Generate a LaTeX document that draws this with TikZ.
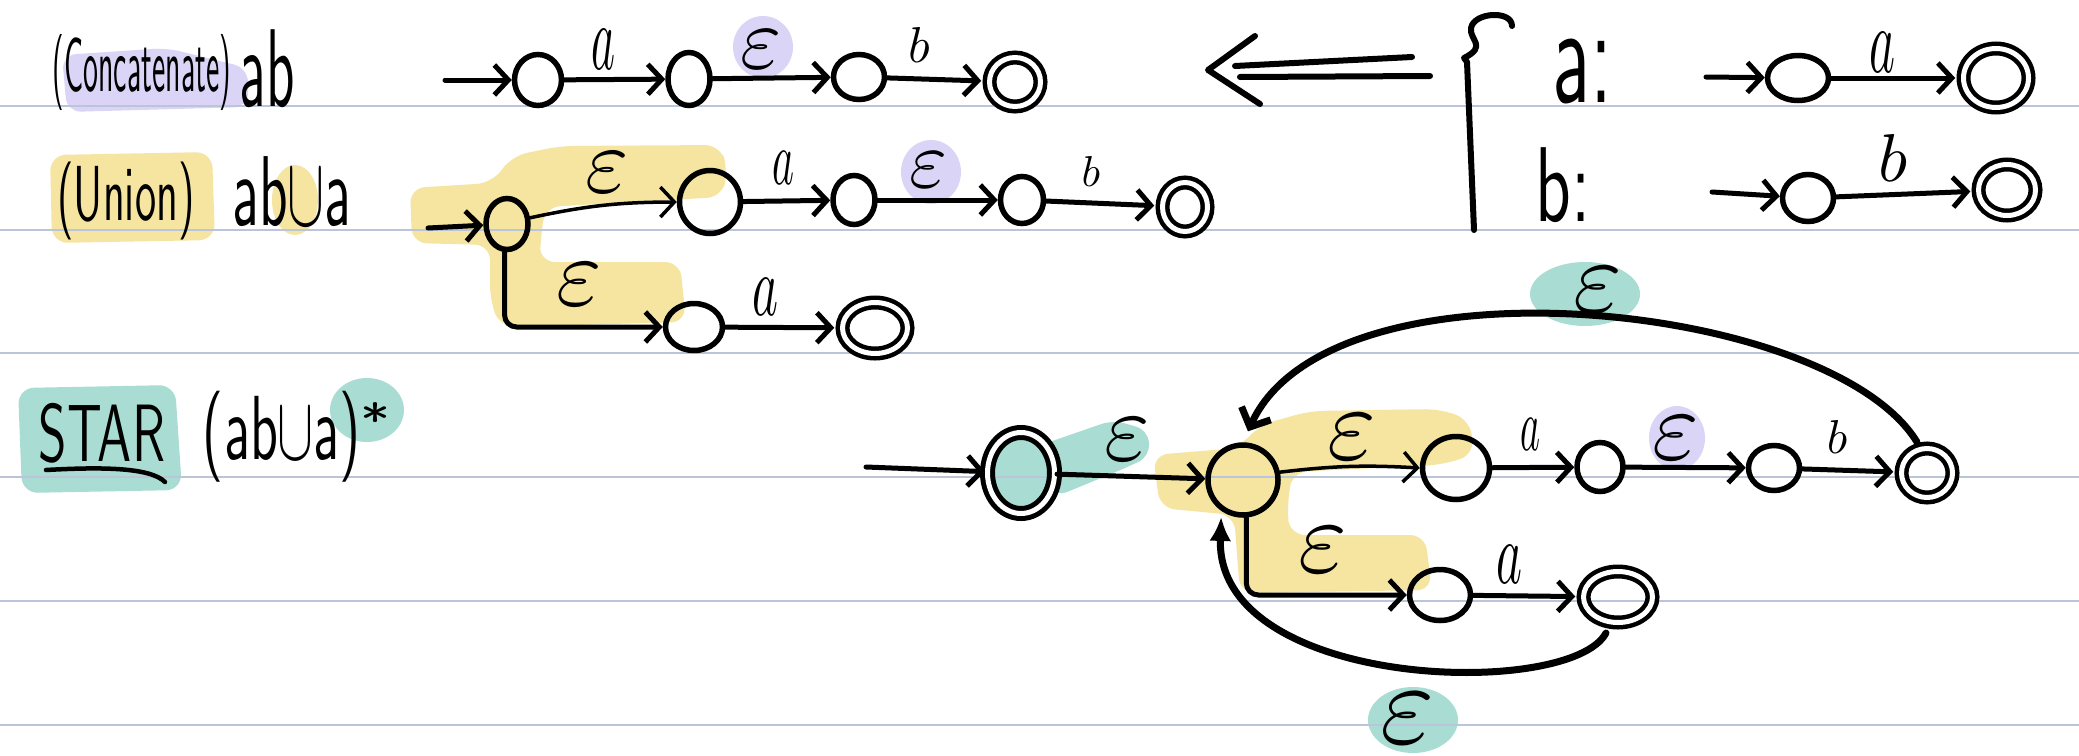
\documentclass[tikz,border=0pt]{standalone}
\usepackage{graphicx}
\usetikzlibrary{arrows.meta,shapes.geometric}
\definecolor{rulec}{HTML}{BAC5D9}
\definecolor{lav}{HTML}{DAD5F7}
\definecolor{hy}{HTML}{F5E5A1}
\definecolor{tealhl}{HTML}{A9DDD3}
\newcommand\hwl[2]{\resizebox*{!}{#1}{$#2$}}
\newcommand\hwlw[3]{\resizebox*{#1}{#2}{$#3$}}
\newcommand\hwt[3]{\resizebox*{#1}{#2}{\sffamily #3}}
\begin{document}
\begin{tikzpicture}[x=1pt,y=-1pt,
  st/.style={draw, ellipse, line width=5.5pt, inner sep=0pt},
  acc/.style={draw, ellipse, line width=4.5pt, double, double distance=5pt, inner sep=0pt},
  ed/.style={line width=5pt, line cap=round, line join=round, -{Straight Barb[length=14pt,width=30pt]}},
  ink/.style={line width=6pt, line cap=round, line join=round},
  lbl/.style={inner sep=0pt},
  txt/.style={inner sep=0pt}]
\useasboundingbox (0,0) rectangle (2079,755);
\fill[white] (0,0) rectangle (2079,755);
% highlights
\fill[lav, rounded corners=14pt] (62,55) -- (167,48) -- (248,68) -- (248,107) -- (67,112) -- cycle;
\fill[hy, rounded corners=16pt] (50,155) -- (212,152) -- (215,240) -- (52,243) -- cycle;
\fill[hy] (295,200) ellipse [x radius=23pt, y radius=35pt];
\fill[tealhl, rounded corners=16pt] (18,388) -- (175,385) -- (182,490) -- (22,493) -- cycle;
\fill[tealhl] (367,410) ellipse [x radius=37pt, y radius=32pt];
\fill[lav] (763,47) ellipse [x radius=30pt, y radius=31pt];
\fill[lav] (931,172) ellipse [x radius=30pt, y radius=32pt];
\fill[lav] (1677,438) ellipse [x radius=28pt, y radius=32pt];
\fill[tealhl] (1585,294) ellipse [x radius=55pt, y radius=32pt];
\fill[tealhl] (1413,720) ellipse [x radius=45pt, y radius=33pt];
\fill[tealhl] (1021,473) ellipse [x radius=37pt, y radius=45pt];
\fill[tealhl, rounded corners=12pt] (1035,447) -- (1113,420) -- (1148,430) -- (1150,456) -- (1130,466) -- (1055,497) -- cycle;
\fill[hy, rounded corners=15pt] (410,188) -- (492,183) -- (512,156) -- (560,146) -- (720,145) -- (728,170) -- (722,197) -- (545,207) -- (540,245) -- (540,262) -- (680,262) -- (686,322) -- (500,327) -- (490,300) -- (490,245) -- (412,243) -- cycle;
\fill[hy, rounded corners=15pt] (1153,455) -- (1238,448) -- (1260,425) -- (1310,411) -- (1440,409) -- (1470,420) -- (1474,455) -- (1440,465) -- (1292,472) -- (1287,510) -- (1290,535) -- (1425,535) -- (1432,590) -- (1240,593) -- (1234,515) -- (1160,508) -- cycle;
% ruled lines
\foreach \yy in {106,229.5,353,477,601,725} \draw[rulec, line width=2pt] (0,\yy) -- (2079,\yy);
% texts
\node[txt] (tcon) at (142,72) {\hwt{178pt}{76pt}{(Concatenate)}};
\node[txt] (tab) at (267,69) {\hwt{55pt}{78pt}{ab}};
\node[txt] (tun) at (126,201) {\hwt{137pt}{78pt}{(Union)}};
\node[txt] (tuab) at (292,192) {\hwt{119pt}{70pt}{ab$\cup$a}};
\node[txt] (tstar) at (102,433) {\hwt{126pt}{60pt}{STAR}};
\draw[line width=4.5pt, line cap=round] (46,470) .. controls (100,467) and (150,467) .. (165,482);
\node[txt] (tsab) at (282,437) {\hwt{158pt}{91pt}{(ab$\cup$a)}};
\node[txt] (tast) at (375,419) {\hwt{30pt}{34pt}{*}};
\node[txt] (ta) at (1582,72) {\hwt{60pt}{65pt}{a:}};
\node[txt] (tb) at (1563,185) {\hwt{55pt}{75pt}{b:}};
% double arrow and brace
\draw[ink] (1412,57) -- (1235,66);
\draw[ink] (1430,76) -- (1240,77);
\draw[ink] (1255,36) -- (1208,70) -- (1260,104);
\draw[ink] (1512,26) .. controls (1512,10) and (1474,12) .. (1471,28) .. controls (1469,40) and (1488,46) .. (1464,58) -- (1467,62) -- (1474,230);
% row 1
\coordinate (s1) at (445,80);
\node[st, minimum width=47pt, minimum height=51pt] (C1) at (538,80) {};
\node[st, minimum width=42pt, minimum height=53pt] (C2) at (689,79) {};
\node[st, minimum width=51pt, minimum height=45pt] (C3) at (859,77) {};
\node[acc, minimum width=51pt, minimum height=49pt] (C4) at (1015,82) {};
\draw[ed] (s1) -- (C1);
\draw[ed] (C1) -- (C2);
\draw[ed] (C2) -- (C3);
\draw[ed, shorten >=6pt] (C3) -- (C4);
\node[lbl] (l1a) at (603,49) {\hwlw{24pt}{40pt}{a}};
\node[lbl] (l1e) at (761,49) {\hwl{38pt}{\varepsilon}};
\node[lbl] (l1b) at (919,45) {\hwl{35pt}{b}};
% row 2
\coordinate (s2) at (428,228);
\node[st, minimum width=42pt, minimum height=51pt] (U0) at (507,224) {};
\node[st, minimum width=61pt, minimum height=63pt] (T1) at (710,202) {};
\node[st, minimum width=42pt, minimum height=49pt] (T2) at (854,200) {};
\node[st, minimum width=43pt, minimum height=47pt] (T3) at (1022,200) {};
\node[acc, minimum width=45pt, minimum height=49pt] (T4) at (1185,207) {};
\node[st, minimum width=57pt, minimum height=47pt] (L1) at (694,327) {};
\node[acc, minimum width=65pt, minimum height=51pt] (L2) at (875,328) {};
\draw[ed] (s2) -- (U0);
\draw[ed, line width=3.5pt] (U0.15) to[bend left=6] (T1.west);
\draw[ed] (T1) -- (T2);
\draw[ed] (T2) -- (T3);
\draw[ed, shorten >=6pt] (T3) -- (T4);
\draw[ed, rounded corners=12pt] (U0.-95) |- (L1.west);
\draw[ed, shorten >=6pt] (L1) -- (L2);
\node[lbl] (l2e1) at (607,172) {\hwl{40pt}{\varepsilon}};
\node[lbl] (l2a) at (783,168) {\hwlw{22pt}{33pt}{a}};
\node[lbl] (l2e2) at (928,170) {\hwl{35pt}{\varepsilon}};
\node[lbl] (l2b) at (1091,171) {\hwl{30pt}{b}};
\node[lbl] (l2e3) at (579,284) {\hwl{42pt}{\varepsilon}};
\node[lbl] (l2a2) at (765,297) {\hwlw{26pt}{37pt}{a}};
% a and b automata
\coordinate (sa) at (1706,77);
\node[st, minimum width=61pt, minimum height=45pt] (A1) at (1798,78) {};
\node[acc, minimum width=65pt, minimum height=59pt] (A2) at (1996,78) {};
\draw[ed] (sa) -- (A1);
\draw[ed, shorten >=6pt] (A1) -- (A2);
\node[lbl] (lAa) at (1882,52) {\hwlw{26pt}{40pt}{a}};
\coordinate (sb) at (1712,192);
\node[st, minimum width=51pt, minimum height=47pt] (B1) at (1808,198) {};
\node[acc, minimum width=57pt, minimum height=51pt] (B2) at (2007,190) {};
\draw[ed] (sb) -- (B1);
\draw[ed, shorten >=6pt] (B1) -- (B2);
\node[lbl] (lBb) at (1893,158) {\hwl{47pt}{b}};
% star automaton
\coordinate (ss) at (866,467);
\node[acc, line width=5pt, minimum width=67pt, minimum height=81pt] (S0) at (1021,473) {};
\node[st, minimum width=70pt, minimum height=70pt] (S1) at (1243,480) {};
\node[st, minimum width=67pt, minimum height=63pt] (V1) at (1456,468) {};
\node[st, minimum width=46pt, minimum height=49pt] (V2) at (1600,467) {};
\node[st, minimum width=51pt, minimum height=45pt] (V3) at (1774,468) {};
\node[acc, minimum width=51pt, minimum height=49pt] (V4) at (1927,473) {};
\node[st, minimum width=61pt, minimum height=51pt] (W1) at (1440,595) {};
\node[acc, minimum width=69pt, minimum height=51pt] (W2) at (1618,597) {};
\draw[ed] (ss) -- (S0);
\draw[ed] (S0) -- (S1);
\draw[ed, line width=3.5pt] (S1.12) to[bend left=5] (V1.west);
\draw[ed] (V1) -- (V2);
\draw[ed] (V2) -- (V3);
\draw[ed, shorten >=6pt] (V3) -- (V4);
\draw[ed, rounded corners=12pt] (S1.-85) |- (W1.west);
\draw[ed, shorten >=6pt] (W1) -- (W2);
\draw[line width=7pt, line cap=round, shorten <=6pt, shorten >=12pt, -{Straight Barb[length=15pt,width=32pt]}] (V4.105) .. controls (1830,300) and (1330,250) .. (S1.north);
\draw[line width=7pt, line cap=round, shorten <=10pt, shorten >=6pt, -{Latex[length=24pt,width=22pt]}] (W2.-105) .. controls (1570,700) and (1215,690) .. (S1.-125);
\node[lbl] (lse0) at (1127,439) {\hwl{42pt}{\varepsilon}};
\node[lbl] (lse1) at (1352,437) {\hwl{45pt}{\varepsilon}};
\node[lbl] (lsa) at (1530,434) {\hwlw{20pt}{32pt}{a}};
\node[lbl] (lse2) at (1676,438) {\hwl{43pt}{\varepsilon}};
\node[lbl] (lsb) at (1837,437) {\hwl{33pt}{b}};
\node[lbl] (lse3) at (1323,550) {\hwl{45pt}{\varepsilon}};
\node[lbl] (lsa2) at (1509,564) {\hwlw{26pt}{38pt}{a}};
\node[lbl] (lstop) at (1598,290) {\hwl{45pt}{\varepsilon}};
\node[lbl] (lsbot) at (1408,718) {\hwl{50pt}{\varepsilon}};
\end{tikzpicture}
\end{document}
